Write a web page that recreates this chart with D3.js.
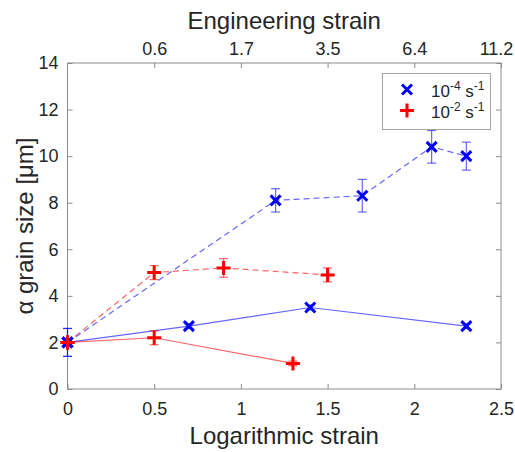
<!DOCTYPE html>
<html>
<head>
<meta charset="utf-8">
<script src="https://cdn.jsdelivr.net/npm/d3@7"></script>
<style>
  body { margin: 0; background: #fff; }
  svg { font-family: "Liberation Sans", Arial, sans-serif; }
</style>
</head>
<body>
<div id="chart"></div>
<script>
var width = 515,
    height = 452;

// 10^-4 s^-1, solid line
var slowSolidStrain = [0, 0.7, 1.4, 2.3];
var slowSolidSize   = [2.0, 2.7, 3.5, 2.7];
var slowSolidErr    = [0.6, 0.1, 0.1, 0.1];
// 10^-4 s^-1, dashed line
var slowDashStrain = [0, 1.2, 1.7, 2.1, 2.3];
var slowDashSize   = [2.0, 8.1, 8.3, 10.4, 10.0];
var slowDashErr    = [0.6, 0.5, 0.7, 0.7, 0.6];
// 10^-2 s^-1, solid line
var fastSolidStrain = [0, 0.5, 1.3];
var fastSolidSize   = [2.0, 2.2, 1.1];
var fastSolidErr    = [0, 0.3, 0.1];
// 10^-2 s^-1, dashed line
var fastDashStrain = [0, 0.5, 0.9, 1.5];
var fastDashSize   = [2.0, 5.0, 5.2, 4.9];
var fastDashErr    = [0, 0.3, 0.4, 0.3];

var xTicks = [0, 0.5, 1, 1.5, 2, 2.5];
var yTicks = [0, 2, 4, 6, 8, 10, 12, 14];
var topTicks = [0.5, 1, 1.5, 2, 2.5];
var topLabels = ["0.6", "1.7", "3.5", "6.4", "11.2"];

var margin = {left: 67.5, right: 14, top: 63, bottom: 63};

var svg = d3.select("#chart")
    .append("svg")
    .attr("width", width)
    .attr("height", height);

var x = d3.scaleLinear().domain([0, 2.5]).range([margin.left, width - margin.right]);
var y = d3.scaleLinear().domain([0, 14]).range([height - margin.bottom, margin.top]);

var axisColor = "#8c8c8c",
    textColor = "#262626";

function styleAxis(g) {
    g.select(".domain").remove();
    g.selectAll("line").attr("stroke", axisColor);
    g.selectAll("text").attr("fill", textColor).style("font-size", "18px");
}

// box
svg.append("rect")
    .attr("x", x(0)).attr("y", y(14))
    .attr("width", x(2.5) - x(0)).attr("height", y(0) - y(14))
    .attr("fill", "none").attr("stroke", axisColor);

svg.append("g")
    .attr("transform", "translate(0," + y(0) + ")")
    .call(d3.axisBottom(x).tickValues(xTicks).tickSizeInner(-5).tickSizeOuter(0).tickPadding(13)
        .tickFormat(d3.format("")))
    .call(styleAxis);

var topAxis = svg.append("g")
    .attr("transform", "translate(0," + y(14) + ")")
    .call(d3.axisTop(x).tickValues(topTicks).tickSizeInner(-5).tickSizeOuter(0).tickPadding(8)
        .tickFormat(function(d, i) { return topLabels[i]; }))
    .call(styleAxis);
// last label is pushed inward so it stays inside the figure
topAxis.selectAll(".tick text").filter(function(d) { return d === 2.5; }).attr("dx", -5);

svg.append("g")
    .attr("transform", "translate(" + x(0) + ",0)")
    .call(d3.axisLeft(y).tickValues(yTicks).tickSizeInner(-5).tickSizeOuter(0).tickPadding(9))
    .call(styleAxis);

svg.append("g")
    .attr("transform", "translate(" + x(2.5) + ",0)")
    .call(d3.axisRight(y).tickValues(yTicks).tickSizeInner(-5).tickSizeOuter(0).tickFormat(""))
    .call(styleAxis);

// axis titles
svg.append("text")
    .attr("x", (x(0) + x(2.5)) / 2).attr("y", 444)
    .attr("text-anchor", "middle").attr("fill", textColor)
    .style("font-size", "24px")
    .text("Logarithmic strain");

svg.append("text")
    .attr("x", (x(0) + x(2.5)) / 2).attr("y", 29)
    .attr("text-anchor", "middle").attr("fill", textColor)
    .style("font-size", "24px")
    .text("Engineering strain");

svg.append("text")
    .attr("transform", "translate(33," + (y(0) + y(14)) / 2 + ") rotate(-90)")
    .attr("text-anchor", "middle").attr("fill", textColor)
    .style("font-size", "24px")
    .text("α grain size [μm]");

function zip(xs, ys, es) {
    return xs.map(function(d, i) { return {x: d, y: ys[i], e: es[i]}; });
}

var series = [
    {data: zip(slowSolidStrain, slowSolidSize, slowSolidErr), color: "#0000ff", dash: null, marker: "x"},
    {data: zip(slowDashStrain, slowDashSize, slowDashErr), color: "#0000ff", dash: "6,4", marker: "x"},
    {data: zip(fastSolidStrain, fastSolidSize, fastSolidErr), color: "#ff0000", dash: null, marker: "+"},
    {data: zip(fastDashStrain, fastDashSize, fastDashErr), color: "#ff0000", dash: "6,4", marker: "+"}
];

var line = d3.line().x(function(d) { return x(d.x); }).y(function(d) { return y(d.y); });

series.forEach(function(s) {
    svg.append("path")
        .datum(s.data)
        .attr("d", line)
        .attr("fill", "none")
        .attr("stroke", s.color)
        .attr("stroke-opacity", 0.6)
        .attr("stroke-width", 1.2)
        .attr("stroke-dasharray", s.dash);
});

series.forEach(function(s) {
    var eb = svg.append("g")
        .attr("stroke", s.color).attr("stroke-opacity", 0.6).attr("stroke-width", 1.2);
    s.data.filter(function(d) { return d.e > 0; }).forEach(function(d) {
        var cx = x(d.x), top = y(d.y + d.e), bot = y(d.y - d.e);
        eb.append("line").attr("x1", cx).attr("x2", cx).attr("y1", top).attr("y2", bot);
        eb.append("line").attr("x1", cx - 4.5).attr("x2", cx + 4.5).attr("y1", top).attr("y2", top);
        eb.append("line").attr("x1", cx - 4.5).attr("x2", cx + 4.5).attr("y1", bot).attr("y2", bot);
    });
});

function drawMarker(g, type, cx, cy, color) {
    var p = type === "x"
        ? "M-5,-5L5,5M-5,5L5,-5"
        : "M-7,0L7,0M0,-7L0,7";
    g.append("path")
        .attr("d", p)
        .attr("transform", "translate(" + cx + "," + cy + ")")
        .attr("stroke", color)
        .attr("stroke-width", 3)
        .attr("fill", "none");
}

series.forEach(function(s) {
    var g = svg.append("g");
    s.data.forEach(function(d) { drawMarker(g, s.marker, x(d.x), y(d.y), s.color); });
});

// legend
var legend = svg.append("g");
legend.append("rect")
    .attr("x", 382.5).attr("y", 73.5).attr("width", 108).attr("height", 56)
    .attr("fill", "#fff").attr("stroke", "#a6a6a6");

var legendItems = [
    {marker: "x", color: "#0000ff", exp: "-4"},
    {marker: "+", color: "#ff0000", exp: "-2"}
];

legendItems.forEach(function(d, i) {
    var ly = 89.5 + i * 21;
    drawMarker(legend, d.marker, 407, ly, d.color);
    var t = legend.append("text")
        .attr("x", 431).attr("y", ly + 7)
        .attr("fill", textColor)
        .style("font-size", "17px");
    t.append("tspan").text("10");
    t.append("tspan").attr("dy", -7).style("font-size", "12px").text(d.exp);
    t.append("tspan").attr("dy", 7).text(" s");
    t.append("tspan").attr("dy", -7).style("font-size", "12px").text("-1");
});
</script>
</body>
</html>
